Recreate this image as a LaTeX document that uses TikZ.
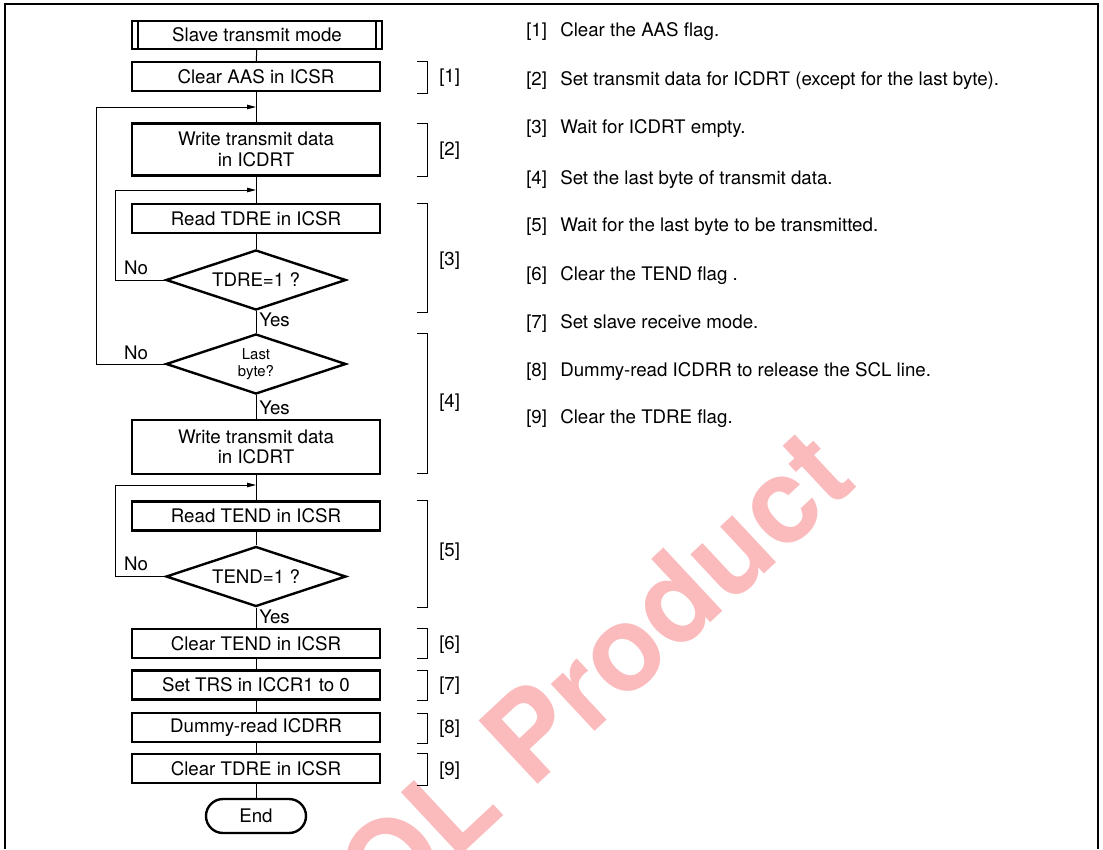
\documentclass[tikz,border=0pt]{standalone}
\usepackage{fontspec}
\setmainfont{TeX Gyre Heros}
\usepackage{tikz}
\usetikzlibrary{shapes.geometric}
\usetikzlibrary{arrows.meta}
\definecolor{wmark}{RGB}{251,186,188}

\begin{document}
\begin{tikzpicture}[x=0.025cm, y=-0.025cm,
  txt/.style={font=\fontsize{13.3}{14.6}\selectfont},
  box/.style={txt, draw, line width=1.7pt, minimum width=6.2cm, minimum height=0.725cm, inner sep=0pt, align=center},
  tallbox/.style={box, minimum height=1.3cm},
  test/.style={txt, diamond, draw, line width=1.7pt, aspect=3, minimum width=4.5cm, minimum height=1.5cm, inner sep=0pt, align=center},
  flow/.style={line width=0.7pt},
  back/.style={line width=0.7pt, -{Triangle[length=2.2mm,width=1.1mm]}},
  lbl/.style={txt, inner sep=0pt}]
\useasboundingbox (0,0) rectangle (1103,849);
% -- watermark --
\begin{scope}
\clip (0,0) rectangle (1103,849);
\node[anchor=base west, rotate=43, inner sep=0pt, text=wmark, font=\fontsize{84.5}{84.5}\bfseries\selectfont] (wm) at (328,980) {EOL Product};
\end{scope}
% -- frame --
\draw[line width=1.5pt] (5,849) -- (5,4) -- (1098,4) -- (1098,849);
% -- flow --
\node[box, minimum width=6.25cm, minimum height=0.7cm] (start) at (257,35) {Slave transmit mode};
\draw[line width=1.1pt] ([xshift=0.175cm]start.north west) -- ([xshift=0.175cm]start.south west);
\draw[line width=1.1pt] ([xshift=-0.175cm]start.north east) -- ([xshift=-0.175cm]start.south east);
\node[box] (clraas) at (256,76.5) {Clear AAS in ICSR};
\node[tallbox] (wrdata) at (256,149.5) {Write transmit data\\in ICDRT};
\node[box] (rdtdre) at (256,218.5) {Read TDRE in ICSR};
\node[test] (tdre) at (256,280) {TDRE=1 ?};
\node[test, font=\fontsize{10.6}{12.3}\selectfont] (last) at (256,364) {Last\\byte?};
\node[tallbox, minimum height=1.35cm] (wrlast) at (256,447) {Write transmit data\\in ICDRT};
\node[box] (rdtend) at (256,516) {Read TEND in ICSR};
\node[test] (tend) at (256,576.5) {TEND=1 ?};
\node[box] (clrtend) at (256,643.5) {Clear TEND in ICSR};
\node[box] (settrs) at (256,685) {Set TRS in ICCR1 to 0};
\node[box] (dummy) at (256,727.5) {Dummy-read ICDRR};
\node[box] (clrtdre) at (256,768.5) {Clear TDRE in ICSR};
\node[box, minimum width=2.5cm, minimum height=0.85cm, rounded corners=0.425cm] (stop) at (256,816) {End};
\coordinate (j1) at (256,107);
\coordinate (j2) at (256,190);
\coordinate (j3) at (256,485);
\draw[flow] (start) -- (clraas);
\draw[flow] (clraas) -- (wrdata);
\draw[flow] (wrdata) -- (rdtdre);
\draw[flow] (rdtdre) -- (tdre);
\draw[flow] (tdre) -- (last);
\draw[flow] (last) -- (wrlast);
\draw[flow] (wrlast) -- (rdtend);
\draw[flow] (rdtend) -- (tend);
\draw[flow] (tend) -- (clrtend);
\draw[flow] (clrtend) -- (settrs);
\draw[flow] (settrs) -- (dummy);
\draw[flow] (dummy) -- (clrtdre);
\draw[flow] (clrtdre) -- (stop);
\draw[back] (last.west) -- +(-68,0) |- (j1);
\draw[back] (tdre.west) -- +(-49,0) |- (j2);
\draw[back] (tend.west) -- +(-49,0) |- (j3);
\node[lbl] (no1) at (136,268) {No};
\node[lbl] (no2) at (136,353) {No};
\node[lbl] (no3) at (136,564) {No};
\node[lbl, anchor=west] (yes1) at (259,320) {Yes};
\node[lbl, anchor=west] (yes2) at (259,408) {Yes};
\node[lbl, anchor=west] (yes3) at (259,617) {Yes};
% -- brackets --
\foreach \n/\ya/\yb/\yl in {1/61/93/78, 2/123/176/150.5, 3/203/312/260.5, 4/333/473/402.5, 5/500/607/552, 6/628/658/645, 7/670/700/685.5, 8/713/743/729, 9/753/785/771}{
  \draw[flow] (417,\ya) -- (427,\ya) -- (427,\yb) -- (417,\yb);
  \node[lbl, anchor=west] (br\n) at (439,\yl) {[\n]};
}
% -- notes --
\foreach \n/\y/\t in {1/36/Clear the AAS flag., 2/85/Set transmit data for ICDRT (except for the last byte)., 3/133.3/Wait for ICDRT empty., 4/184.3/Set the last byte of transmit data., 5/231.7/Wait for the last byte to be transmitted., 6/280/Clear the TEND flag ., 7/328.3/Set slave receive mode., 8/376/Dummy-read ICDRR to release the SCL line., 9/423.3/Clear the TDRE flag.}{
  \node[lbl, anchor=base west] (nn\n) at (526,\y) {[\n]};
  \node[lbl, anchor=base west] (nt\n) at (560,\y) {\t};
}
\end{tikzpicture}
\end{document}
